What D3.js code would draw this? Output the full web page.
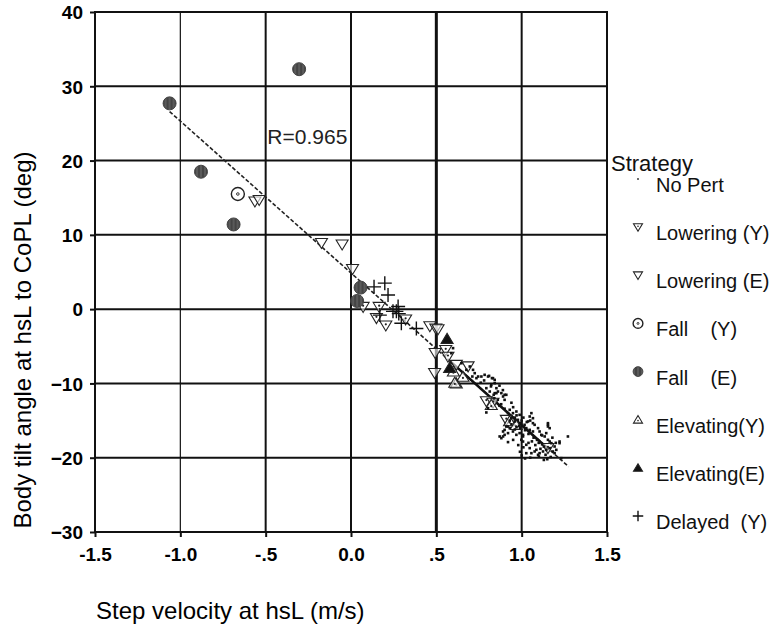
<!DOCTYPE html>
<html>
<head>
<meta charset="utf-8">
<script src="https://cdn.jsdelivr.net/npm/d3@7"></script>
<style>
  html, body { margin: 0; padding: 0; background: #fff; }
  svg { display: block; font-family: Arial, "Liberation Sans", sans-serif; }
</style>
</head>
<body>
<svg id="chart" width="773" height="632"></svg>
<script>
// Axis ticks and labels
const xTicks = [-1.5, -1.0, -0.5, 0.0, 0.5, 1.0, 1.5];
const xTickLabels = ["-1.5", "-1.0", "-.5", "0.0", ".5", "1.0", "1.5"];
const yTicks = [-30, -20, -10, 0, 10, 20, 30, 40];

// Strategy groups (x = step velocity m/s, y = body tilt deg)
const noPert = [
  [0.598,-5.25],[0.588,-5.93],[0.647,-7.28],[0.676,-8.17],[0.696,-7.72],[0.711,-9.07],[0.715,-8.17],
  [0.725,-8.62],[0.735,-9.29],[0.745,-9.07],[0.764,-9.07],[0.783,-8.84],[0.803,-9.07],[0.809,-8.98],
  [0.826,-9.29],[0.832,-9.29],[0.842,-9.52],[0.842,-9.96],[0.822,-10.19],[0.852,-10.64],[0.861,-11.09],
  [0.881,-11.31],[0.900,-11.53],[0.842,-11.31],[0.813,-11.09],[0.793,-10.64],[0.852,-11.31],[0.836,-11.53],
  [0.891,-11.76],[0.910,-11.53],[0.900,-12.21],[0.793,-13.91],[0.803,-13.33],[0.930,-13.55],[0.949,-14.00],
  [0.969,-13.78],[0.988,-14.23],[0.939,-14.68],[0.959,-15.12],[0.978,-14.90],[0.998,-15.35],[1.017,-15.57],
  [1.027,-16.02],[1.047,-16.25],[1.066,-16.47],[1.057,-14.00],[1.066,-14.68],[1.076,-15.57],[1.096,-16.02],
  [1.105,-16.47],[1.115,-16.92],[1.135,-17.14],[1.154,-17.59],[1.164,-17.82],[1.144,-16.69],[1.154,-15.57],
  [1.164,-16.02],[1.174,-18.04],[1.193,-18.49],[1.203,-18.94],[1.183,-19.16],[1.164,-18.71],[1.144,-18.94],
  [1.125,-19.16],[1.105,-19.39],[1.096,-19.61],[1.076,-19.16],[1.047,-18.71],[1.027,-18.26],[1.008,-17.82],
  [1.008,-17.14],[0.988,-16.69],[0.969,-16.92],[0.949,-16.47],[0.930,-16.02],[0.910,-15.80],[0.891,-16.47],
  [0.871,-17.14],[0.881,-17.37],[0.900,-16.92],[0.920,-16.69],[1.222,-17.82],[1.271,-17.14],[1.232,-20.06],
  [1.193,-19.39],[1.027,-19.39],[1.057,-19.39],[0.891,-17.14],[0.900,-16.25],[0.920,-15.80],[1.008,-16.92],
  [0.998,-17.59],[1.086,-18.94],[1.101,-19.84],[1.154,-15.35],[1.154,-15.80],[1.047,-14.45],[1.037,-15.12],
  [1.066,-15.35],[1.222,-18.04],[0.870,-13.00],[0.900,-13.40],[0.960,-14.60],[1.000,-15.00],[1.030,-15.20],
  [0.920,-14.00],[0.985,-15.70],[1.040,-16.80],[1.070,-17.30],[1.100,-18.00],[1.120,-18.20],[1.130,-18.50],
  [0.940,-15.50],[0.970,-15.90],[1.000,-19.70],[0.990,-19.20],[1.020,-20.10],[1.050,-20.00],[1.150,-20.20],
  [1.170,-19.90],[1.130,-20.30],
  [0.860,-12.20],[0.880,-12.80],[0.950,-13.20],[0.970,-14.30],[1.010,-14.60],[1.020,-16.30],[1.060,-17.80],
  [1.080,-18.30],[1.090,-17.60],[1.110,-18.80],[0.930,-15.00],[0.960,-16.20],[0.990,-16.00],[1.010,-18.60],
  [1.040,-18.00],[0.980,-18.30],[0.950,-17.60],[0.920,-17.90],[1.180,-17.30],[1.200,-18.00],[1.140,-19.60],
  [1.120,-17.00],[0.840,-12.00],[0.820,-10.40],[0.780,-9.60],[0.760,-9.90],[0.870,-10.30],[0.890,-10.90],
  [0.940,-12.60],[1.050,-15.00]
];
const loweringY = [
  [0.071,0.3],[0.149,-1.2],[0.204,-2.2],[0.165,0.3],[0.320,-1.4],[0.555,-5.5],[0.568,-6.4],
  [0.793,-12.4],[0.832,-12.6],[0.910,-14.9],[1.154,-18.7]
];
const loweringE = [
  [-0.563,14.5],[-0.538,14.7],[-0.173,8.9],[-0.052,8.7],[0.009,5.4],[0.462,-2.3],[0.497,-2.6],
  [0.510,-2.7],[0.493,-5.9],[0.490,-8.6],[0.686,-7.7],[0.617,-7.5]
];
const fallY = [[-0.663,15.5]];
const fallE = [[-1.063,27.7],[-0.304,32.3],[-0.879,18.5],[-0.688,11.4],[0.056,2.9],[0.036,1.1]];
const elevatingY = [[0.617,-10.0],[0.656,-9.1],[0.600,-8.4],[0.822,-12.9],[0.929,-15.1],[0.968,-15.6],[0.608,-9.9]];
const elevatingE = [[0.563,-4.0],[0.578,-7.9]];
const delayedY = [
  [0.198,3.5],[0.135,3.0],[0.217,1.9],[0.276,0.35],[0.266,-0.3],[0.169,-0.8],[0.383,-2.6],
  [0.295,-1.9],[0.246,-0.3],[0.280,-0.6]
];

// Regression fit (overall, and the dense No Pert segment)
const fitLine = [[-1.063, 26.6], [1.275, -21.2]];
const fitDense = [[0.58, -7.0], [1.16, -18.9]];
const fitLabel = "R=0.965";
const fitLabelPos = [-0.49, 22.2];

const legendLabels = ["No Pert", "Lowering (Y)", "Lowering (E)", "Fall    (Y)", "Fall    (E)",
                      "Elevating(Y)", "Elevating(E)", "Delayed  (Y)"];
const legendKeys = ["noPert", "loweringY", "loweringE", "fallY", "fallE", "elevatingY", "elevatingE", "delayedY"];

const svg = d3.select("#chart");
const x = d3.scaleLinear().domain([-1.5, 1.5]).range([95, 607]);
const y = d3.scaleLinear().domain([-30, 40]).range([532, 12]);

// stripe pattern for the filled circles
const defs = svg.append("defs");
const pat = defs.append("pattern").attr("id", "stripes").attr("patternUnits", "userSpaceOnUse")
  .attr("width", 4).attr("height", 4);
pat.append("rect").attr("width", 4).attr("height", 4).attr("fill", "#5a5a5a");
pat.append("rect").attr("x", 1.5).attr("width", 1).attr("height", 4).attr("fill", "#2e2e2e");

// grid
const grid = svg.append("g");
grid.selectAll("line.v").data(xTicks.slice(1, -1)).join("line")
  .attr("x1", d => x(d)).attr("x2", d => x(d)).attr("y1", y(40)).attr("y2", y(-30))
  .attr("stroke", "#111").attr("stroke-width", d => d === 0.5 ? 3 : (d === -1 ? 1.2 : 2));
grid.selectAll("line.h").data(yTicks.slice(1, -1)).join("line")
  .attr("x1", x(-1.5)).attr("x2", x(1.5)).attr("y1", d => y(d)).attr("y2", d => y(d))
  .attr("stroke", "#111").attr("stroke-width", 2);
svg.append("rect").attr("x", x(-1.5)).attr("y", y(40)).attr("width", x(1.5) - x(-1.5))
  .attr("height", y(-30) - y(40)).attr("fill", "none").attr("stroke", "#111").attr("stroke-width", 2);

// axes
const xAxis = svg.append("g").attr("transform", `translate(0,${y(-30)})`)
  .call(d3.axisBottom(x).tickValues(xTicks).tickFormat((d, i) => xTickLabels[i]).tickSize(5).tickPadding(11));
const yAxis = svg.append("g").attr("transform", `translate(${x(-1.5)},0)`)
  .call(d3.axisLeft(y).tickValues(yTicks).tickFormat(d3.format("d")).tickSize(5).tickPadding(7));
[xAxis, yAxis].forEach(a => {
  a.select(".domain").remove();
  a.selectAll(".tick line").attr("stroke", "#111").attr("stroke-width", 2);
  a.selectAll(".tick text").attr("fill", "#000").attr("font-size", 19).attr("font-weight", "bold")
    .attr("font-family", "Arial, 'Liberation Sans', sans-serif");
});
yAxis.selectAll(".tick text").attr("dy", "0.36em");

// axis titles
svg.append("text").attr("x", 96).attr("y", 619).attr("font-size", 24).attr("fill", "#000")
  .text("Step velocity at hsL (m/s)");
svg.append("text").attr("transform", "translate(31,340) rotate(-90)").attr("text-anchor", "middle")
  .attr("font-size", 24).attr("fill", "#000").text("Body tilt angle at hsL to CoPL (deg)");

// regression lines
const line = d3.line().x(d => x(d[0])).y(d => y(d[1]));
svg.append("path").datum(fitLine).attr("d", line).attr("fill", "none")
  .attr("stroke", "#222").attr("stroke-width", 1.6).attr("stroke-dasharray", "4,2");
svg.append("path").datum(fitDense).attr("d", line).attr("fill", "none")
  .attr("stroke", "#111").attr("stroke-width", 2.6);
svg.append("text").attr("x", x(fitLabelPos[0])).attr("y", y(fitLabelPos[1])).attr("font-size", 21)
  .attr("fill", "#222").text(fitLabel);

// marker drawing
const symbols = {
  noPert(g, s) {
    g.append("rect").attr("x", -1.3 * s).attr("y", -1.3 * s).attr("width", 2.6 * s).attr("height", 2.6 * s)
      .attr("fill", "#111");
  },
  triDown(g, s, dot) {
    g.append("path").attr("d", `M${-6*s},${-4.5*s}L${6*s},${-4.5*s}L0,${5.5*s}Z`)
      .attr("fill", "#fff").attr("fill-opacity", 0.6).attr("stroke", "#222").attr("stroke-width", 1.1);
    if (dot) g.append("circle").attr("cy", -1.2 * s).attr("r", 1.1 * s).attr("fill", "#222");
  },
  triUp(g, s, dot, filled) {
    g.append("path").attr("d", `M${-6*s},${4.5*s}L${6*s},${4.5*s}L0,${-5.5*s}Z`)
      .attr("fill", filled ? "#111" : "#fff").attr("fill-opacity", filled ? 1 : 0.6)
      .attr("stroke", "#222").attr("stroke-width", 1.1);
    if (dot) g.append("circle").attr("cy", 1.2 * s).attr("r", 1.1 * s).attr("fill", "#222");
  },
  fallY(g, s) {
    g.append("circle").attr("r", 6.5 * s).attr("fill", "#fff").attr("stroke", "#222").attr("stroke-width", 1.4);
    g.append("circle").attr("r", 1.3 * s).attr("fill", "none").attr("stroke", "#222").attr("stroke-width", 0.9);
  },
  fallE(g, s) {
    g.append("circle").attr("r", 6.5 * s).attr("fill", "url(#stripes)").attr("stroke", "#444").attr("stroke-width", 1);
  },
  plus(g, s) {
    g.append("path").attr("d", `M${-7*s},0H${7*s}M0,${-7*s}V${7*s}`)
      .attr("stroke", "#111").attr("stroke-width", 1.4).attr("fill", "none");
  }
};
const drawers = {
  noPert: (g, s) => symbols.noPert(g, s),
  loweringY: (g, s) => symbols.triDown(g, s, true),
  loweringE: (g, s) => symbols.triDown(g, s, false),
  fallY: (g, s) => symbols.fallY(g, s),
  fallE: (g, s) => symbols.fallE(g, s),
  elevatingY: (g, s) => symbols.triUp(g, s, true, false),
  elevatingE: (g, s) => symbols.triUp(g, s, false, true),
  delayedY: (g, s) => symbols.plus(g, s)
};
const groups = { noPert, loweringY, loweringE, fallY, fallE, elevatingY, elevatingE, delayedY };
const drawOrder = ["loweringE", "loweringY", "elevatingY", "elevatingE", "fallY", "fallE", "delayedY", "noPert"];

const marks = svg.append("g");
drawOrder.forEach(key => {
  marks.append("g").selectAll("g").data(groups[key]).join("g")
    .attr("transform", d => `translate(${x(d[0])},${y(d[1])})`)
    .each(function () { drawers[key](d3.select(this), 1); });
});

// legend
const legend = svg.append("g");
legend.append("text").attr("x", 611).attr("y", 171).attr("font-size", 22).attr("fill", "#111").text("Strategy");
const legendY = d3.scalePoint().domain(legendKeys).range([185, 522]);
legendKeys.forEach((k, i) => {
  const cy = legendY(k);
  const g = legend.append("g").attr("transform", `translate(638,${cy - 6})`);
  drawers[k](g, k === "noPert" ? 0.6 : 0.75);
  legend.append("text").attr("x", 656).attr("y", cy + 7).attr("font-size", 20).attr("fill", "#111")
    .attr("xml:space", "preserve").style("white-space", "pre").text(legendLabels[i]);
});
</script>
</body>
</html>
